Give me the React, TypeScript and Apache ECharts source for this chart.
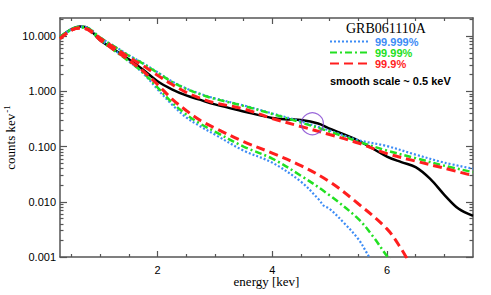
import React, { useEffect, useRef } from 'react';
import * as echarts from 'echarts';

// Axis ranges and ticks
const X_MIN = 0.3;
const X_MAX = 7.5;
const X_LABELS = [2, 4, 6];
const X_MINOR = [0.5, 1, 1.5, 2.5, 3, 3.5, 4.5, 5, 5.5, 6.5, 7];
const Y_MIN = 0.001;
const Y_MAX = 21.3;
const Y_LABELS = [0.001, 0.01, 0.1, 1, 10];
const Y_MINOR = [
  0.002, 0.003, 0.004, 0.005, 0.006, 0.007, 0.008, 0.009,
  0.02, 0.03, 0.04, 0.05, 0.06, 0.07, 0.08, 0.09,
  0.2, 0.3, 0.4, 0.5, 0.6, 0.7, 0.8, 0.9,
  2, 3, 4, 5, 6, 7, 8, 9, 20,
];

// Upper (99.9x%) bands
const ENERGY_UPPER = [0.3, 0.5, 0.65, 0.8, 1.0, 1.25, 1.5, 1.75, 2.0, 2.25, 2.5, 2.75, 3.0, 3.5, 4.0, 4.5, 5.0, 5.5, 6.0, 6.5, 7.0, 7.5];
const BLUE_UPPER = [9.59, 13.41, 14.89, 13.98, 9.5, 6.58, 4.51, 3.23, 2.22, 1.52, 1.13, 0.9, 0.746, 0.556, 0.398, 0.285, 0.195, 0.131, 0.102, 0.0715, 0.0512, 0.0398];
const GREEN_UPPER = [9.59, 13.41, 14.89, 13.69, 9.4, 6.44, 4.42, 3.16, 2.17, 1.49, 1.11, 0.882, 0.731, 0.545, 0.39, 0.273, 0.187, 0.123, 0.0846, 0.0618, 0.0451, 0.0344];
const RED_UPPER = [9.0, 12.85, 13.98, 13.13, 9.2, 6.18, 4.15, 2.91, 1.95, 1.34, 0.959, 0.746, 0.618, 0.481, 0.323, 0.231, 0.165, 0.116, 0.0746, 0.0545, 0.0406, 0.0297];

// Smoothed spectrum (black)
const ENERGY_BLACK = [0.3, 0.5, 0.65, 0.8, 1.0, 1.25, 1.5, 1.75, 2.0, 2.25, 2.5, 2.75, 3.0, 3.5, 4.0, 4.3, 4.5, 4.8, 5.0, 5.5, 6.0, 6.25, 6.5, 6.75, 7.0, 7.25, 7.5];
const BLACK = [9.59, 13.41, 14.89, 13.69, 8.4, 5.68, 3.82, 2.46, 1.52, 1.09, 0.846, 0.7, 0.58, 0.433, 0.33, 0.31, 0.303, 0.262, 0.212, 0.1285, 0.0658, 0.0523, 0.0424, 0.0262, 0.0134, 0.00746, 0.00557];

// Lower bands
const ENERGY_RED_LOWER = [0.3, 0.5, 0.65, 0.8, 1.0, 1.25, 1.5, 1.75, 2.0, 2.25, 2.5, 2.75, 3.0, 3.5, 4.0, 4.5, 5.0, 5.5, 6.0, 6.25, 6.4];
const RED_LOWER = [9.0, 12.85, 13.98, 12.85, 8.5, 5.57, 3.66, 2.31, 1.34, 0.731, 0.45, 0.297, 0.217, 0.123, 0.0762, 0.0451, 0.0231, 0.0092, 0.00323, 0.0014, 0.00075];
const ENERGY_GREEN_LOWER = [0.3, 0.5, 0.65, 0.8, 1.0, 1.25, 1.5, 1.75, 2.0, 2.25, 2.5, 2.75, 3.0, 3.5, 4.0, 4.5, 5.0, 5.5, 5.75, 6.0, 6.1];
const GREEN_LOWER = [9.2, 13.13, 14.3, 13.13, 8.6, 5.45, 3.51, 2.17, 1.18, 0.63, 0.382, 0.257, 0.187, 0.1, 0.0605, 0.0297, 0.0131, 0.0049, 0.00241, 0.00104, 0.00078];
const ENERGY_BLUE_LOWER = [0.3, 0.5, 0.65, 0.8, 1.0, 1.25, 1.5, 1.75, 2.0, 2.25, 2.5, 2.75, 3.0, 3.5, 4.0, 4.5, 4.8, 4.9, 5.0, 5.25, 5.5, 5.65, 5.75];
const BLUE_LOWER = [9.4, 13.41, 14.6, 13.41, 8.7, 5.57, 3.51, 2.12, 1.09, 0.58, 0.337, 0.231, 0.165, 0.0846, 0.0512, 0.0231, 0.01134, 0.00846, 0.00746, 0.00415, 0.00212, 0.00118, 0.00078];

// Marked feature
const CIRCLE_POINT = [[4.7, 0.259]];

const LEGEND_NAMES = ['99.999%', '99.99%', '99.9%'];
const BLUE = '#3d8cf5';
const GREEN = '#22e022';
const RED = '#ff1e1e';
const AXIS = '#555555';

const pairs = (xs: number[], ys: number[]) => xs.map((x, i) => [x, ys[i]]);

export default function App() {
  const ref = useRef<HTMLDivElement>(null);
  useEffect(() => {
    if (!ref.current) return;
    const chart = echarts.init(ref.current, null, { renderer: 'svg' });
    const axisLine = { show: true, onZero: false, lineStyle: { color: AXIS, width: 1.5 } };
    const tickLine = { color: AXIS, width: 1.2 };
    const sans = 'Liberation Sans';
    const serif = 'Liberation Serif';
    const xBase = { type: 'value', min: X_MIN, max: X_MAX, splitLine: { show: false } };
    const yBase = { type: 'log', logBase: 10, min: Y_MIN, max: Y_MAX, splitLine: { show: false } };
    const line = (name: string, xs: number[], ys: number[], color: string, width: number, type: any, z: number) => ({
      type: 'line', name, data: pairs(xs, ys), symbol: 'none', smooth: 0.35, z,
      lineStyle: { color, width, type, cap: 'butt' }, itemStyle: { color },
    });
    chart.setOption({
      animation: false,
      backgroundColor: '#ffffff',
      grid: { left: 60, right: 18, top: 18, bottom: 38, containLabel: false, outerBoundsMode: 'none' },
      title: {
        text: 'GRB061110A', left: 346, top: 21, padding: 0,
        textStyle: { fontFamily: serif, fontSize: 14, lineHeight: 14, fontWeight: 'normal', color: '#000' },
      },
      legend: {
        orient: 'vertical', left: 329, top: 36, itemWidth: 40, itemHeight: 11, itemGap: 0, padding: 0,
        textStyle: { fontFamily: sans, fontSize: 11, fontWeight: 'bold' },
        itemStyle: { opacity: 0 },
        data: [
          { name: LEGEND_NAMES[0], textStyle: { color: BLUE } },
          { name: LEGEND_NAMES[1], textStyle: { color: GREEN } },
          { name: LEGEND_NAMES[2], textStyle: { color: RED } },
        ],
        selectedMode: false,
      },
      graphic: [
        {
          type: 'text', left: 330, top: 75,
          style: { text: 'smooth scale ~ 0.5 keV', fontFamily: sans, fontSize: 11, fontWeight: 'bold', fill: '#000' },
        },
      ],
      xAxis: [
        {
          ...xBase, position: 'bottom', axisLine,
          axisTick: { show: true, inside: true, length: 6, customValues: X_LABELS, lineStyle: tickLine },
          axisLabel: { customValues: X_LABELS, fontFamily: sans, fontSize: 11, lineHeight: 11, color: '#000', margin: 7 },
          name: 'energy [kev]', nameLocation: 'middle', nameGap: 18, nameMoveOverlap: false,
          nameTextStyle: { fontFamily: serif, fontSize: 13, lineHeight: 13, color: '#000' },
        },
        {
          ...xBase, position: 'bottom', axisLine: { show: false },
          axisTick: { show: true, inside: true, length: 3, customValues: X_MINOR, lineStyle: tickLine },
          axisLabel: { show: false },
        },
        {
          ...xBase, position: 'top', axisLine,
          axisTick: { show: true, inside: true, length: 6, customValues: X_LABELS, lineStyle: tickLine },
          axisLabel: { show: false },
        },
        {
          ...xBase, position: 'top', axisLine: { show: false },
          axisTick: { show: true, inside: true, length: 3, customValues: X_MINOR, lineStyle: tickLine },
          axisLabel: { show: false },
        },
      ],
      yAxis: [
        {
          ...yBase, position: 'left', axisLine,
          axisTick: { show: true, inside: true, length: 7, customValues: Y_LABELS, lineStyle: tickLine },
          axisLabel: {
            customValues: Y_LABELS, fontFamily: sans, fontSize: 11, color: '#000', margin: 4,
            formatter: (v: number) => Number(v).toFixed(3),
          },
          name: 'counts kev{sup|-1}', nameLocation: 'middle', nameGap: 42, nameRotate: 90, nameMoveOverlap: false,
          nameTextStyle: {
            fontFamily: serif, fontSize: 13, color: '#000',
            rich: { sup: { fontFamily: serif, fontSize: 9, color: '#000', padding: [0, 0, 7, 1] } },
          },
        },
        {
          ...yBase, position: 'left', axisLine: { show: false },
          axisTick: { show: true, inside: true, length: 3.5, customValues: Y_MINOR, lineStyle: tickLine },
          axisLabel: { show: false },
        },
        {
          ...yBase, position: 'right', axisLine,
          axisTick: { show: true, inside: true, length: 7, customValues: Y_LABELS, lineStyle: tickLine },
          axisLabel: { show: false },
        },
        {
          ...yBase, position: 'right', axisLine: { show: false },
          axisTick: { show: true, inside: true, length: 3.5, customValues: Y_MINOR, lineStyle: tickLine },
          axisLabel: { show: false },
        },
      ],
      series: [
        line('black', ENERGY_BLACK, BLACK, '#000000', 2.5, 'solid', 2),
        line(LEGEND_NAMES[0], ENERGY_UPPER, BLUE_UPPER, BLUE, 2.2, [2, 2], 3),
        line(LEGEND_NAMES[0], ENERGY_BLUE_LOWER, BLUE_LOWER, BLUE, 2.2, [2, 2], 3),
        line(LEGEND_NAMES[1], ENERGY_UPPER, GREEN_UPPER, GREEN, 2.5, [7, 3, 2, 3], 4),
        line(LEGEND_NAMES[1], ENERGY_GREEN_LOWER, GREEN_LOWER, GREEN, 2.5, [7, 3, 2, 3], 4),
        line(LEGEND_NAMES[2], ENERGY_UPPER, RED_UPPER, RED, 3, [9, 5], 5),
        line(LEGEND_NAMES[2], ENERGY_RED_LOWER, RED_LOWER, RED, 3, [9, 5], 5),
        {
          type: 'scatter', name: 'feature', data: CIRCLE_POINT, symbol: 'circle', symbolSize: 22, z: 6,
          itemStyle: { color: 'rgba(0,0,0,0)', borderColor: '#8040d0', borderWidth: 1.2 },
        },
      ],
    });
    return () => chart.dispose();
  }, []);
  return <div ref={ref} style={{ position: 'fixed', left: 0, top: 0, width: 491, height: 295 }} />;
}
